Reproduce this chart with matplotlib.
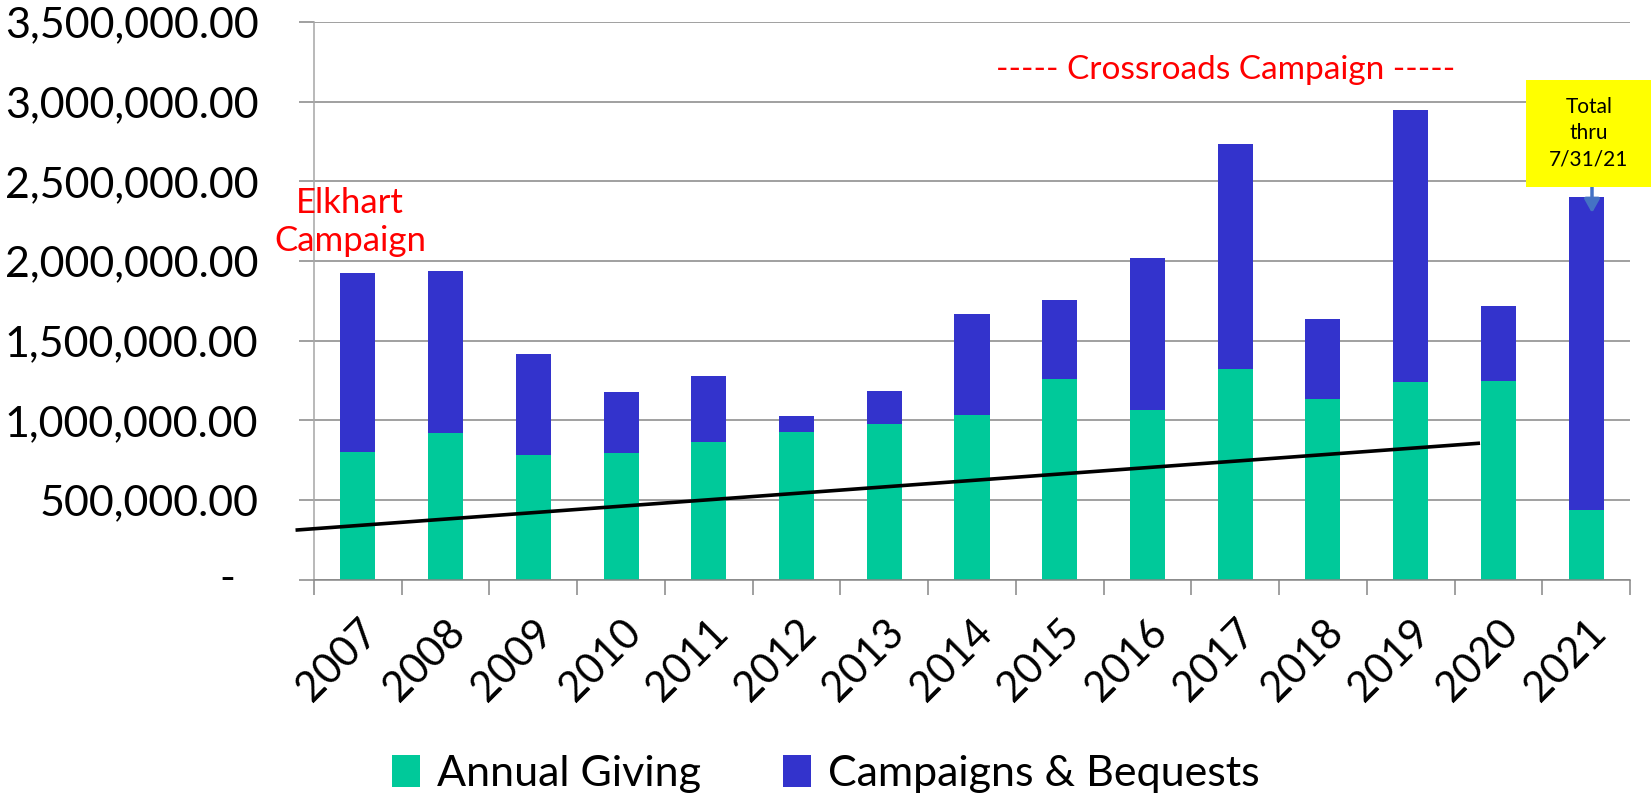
import matplotlib.pyplot as plt
import matplotlib.transforms as mtransforms
from matplotlib.patches import Rectangle
import numpy as np

plt.rcParams['font.family'] = ['Lato', 'DejaVu Sans']

# data
years = ['2007', '2008', '2009', '2010', '2011', '2012', '2013', '2014',
         '2015', '2016', '2017', '2018', '2019', '2020', '2021']
annual_giving = [801000, 921000, 781000, 794000, 864000, 926000, 979000, 1033000,
                 1257000, 1065000, 1323000, 1136000, 1237000, 1246000, 437000]
totals = [1925000, 1938000, 1415000, 1178000, 1276000, 1025000, 1184000, 1667000,
          1753000, 2017000, 2732000, 1634000, 2950000, 1720000, 2401000]
campaigns = [t - a for t, a in zip(totals, annual_giving)]
# trend line end points (category position, value)
trend_x = [-0.69, 12.77]
trend_y = [311000, 855000]
yticks = [0, 500000, 1000000, 1500000, 2000000, 2500000, 3000000, 3500000]

green = '#00C99A'
blue = '#3333CC'
grid_c = '#868686'

fig = plt.figure(figsize=(16.51, 8.0), dpi=100)
ax = fig.add_axes([314 / 1651, 1 - 579.5 / 800, (1630 - 314) / 1651, (579.5 - 22) / 800])

x = np.arange(len(years))
ax.bar(x, annual_giving, width=0.4, color=green, label='Annual Giving', zorder=2)
ax.bar(x, campaigns, width=0.4, bottom=annual_giving, color=blue,
       label='Campaigns & Bequests', zorder=2)
ax.plot(trend_x, trend_y, color='black', lw=2.6, zorder=3, clip_on=False)

ax.set_xlim(-0.5, len(years) - 0.5)
ax.set_ylim(0, 3500000)
ax.set_yticks(yticks)
ylabels = ['{:,.2f}'.format(v) for v in yticks]
ylabels[0] = ''
ax.set_yticklabels(ylabels, fontsize=31)
ax.annotate('-', xy=(0, 0), xycoords=('axes fraction', 'data'), xytext=(-79, 0),
            textcoords='offset pixels', ha='right', va='center', fontsize=31)
ax.yaxis.grid(True, color=grid_c, lw=1.1, zorder=0)
ax.tick_params(axis='y', length=11, width=1.1, color=grid_c, pad=29)

ax.set_xticks(x)
ax.set_xticklabels(years, fontsize=30, rotation=45, ha='right', va='top',
                   rotation_mode='anchor')
shift = mtransforms.ScaledTranslation(-9 / 100, 0, fig.dpi_scale_trans)
for lab in ax.get_xticklabels():
    lab.set_transform(lab.get_transform() + shift)
ax.set_xticks(np.arange(-0.5, len(years)), minor=True)
ax.tick_params(axis='x', which='major', length=0, pad=24)
ax.tick_params(axis='x', which='minor', length=11, width=1.1, color=grid_c)

for s in ['top', 'right']:
    ax.spines[s].set_visible(False)
ax.spines['bottom'].set_color(grid_c)
ax.spines['bottom'].set_linewidth(1.1)
ax.spines['left'].set_color('#A6A6A6')
ax.spines['left'].set_linewidth(1.1)

# annotations
ax.text(350 / 1651, 1 - 222 / 800, 'Elkhart\nCampaign', transform=fig.transFigure,
        color='red', fontsize=25, ha='center', va='center', linespacing=1.2)
ax.text(1226 / 1651, 1 - 70 / 800, '----- Crossroads Campaign -----',
        transform=fig.transFigure, color='red', fontsize=24, ha='center', va='center')

fig.add_artist(Rectangle((1526 / 1651, 1 - 187 / 800), 125 / 1651, 107 / 800,
                         transform=fig.transFigure, facecolor='#FFFF00',
                         edgecolor='none', zorder=4))
fig.text(1589 / 1651, 1 - 133 / 800, 'Total\nthru\n7/31/21', ha='center', va='center',
         fontsize=15, linespacing=1.4, zorder=5)
ax.annotate('', xy=(1592 / 1651, 1 - 213 / 800), xycoords='figure fraction',
            xytext=(1592 / 1651, 1 - 187 / 800), textcoords='figure fraction',
            arrowprops=dict(arrowstyle='-|>,head_length=0.8,head_width=0.45',
                            color='#4472C4', lw=2.5, shrinkA=0, shrinkB=0), zorder=5)

fig.legend(loc='center', bbox_to_anchor=(0.5, 1 - 774 / 800), ncol=2, frameon=False,
           fontsize=31, handlelength=0.65, handleheight=0.75, handletextpad=0.4,
           columnspacing=1.9)

fig.savefig('out.png', dpi=100)
